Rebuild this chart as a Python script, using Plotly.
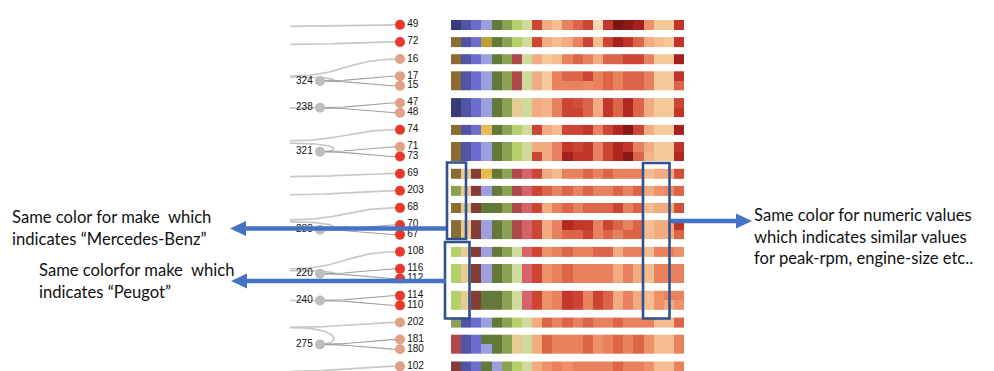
import plotly.graph_objects as go

# ------------------------------------------------------------------ data
LEAVES = ["49", "72", "16", "17", "15", "47", "48", "74", "71", "73", "69", "203",
          "68", "70", "67", "108", "116", "112", "114", "110", "202", "181", "180", "102"]
GROUP_SIZES = [1, 1, 1, 2, 2, 1, 2, 1, 1, 1, 2, 1, 2, 2, 1, 2, 1]
GROUP_NODE = ["", "", "", "324", "238", "", "321", "", "", "", "288", "", "220", "240", "", "275", ""]
CLUSTER = [1, 1, 0, 0, 0, 0, 0, 1, 0, 1, 1, 1, 1, 1, 1, 1, 1, 1, 1, 1, 0, 0, 0, 0]

# categorical attributes (make, fuel, aspiration, doors, body, drive, engine-loc, ...) as category codes
CAT_CODES = [
    [0, 1, 2, 3, 4, 5, 6, 7],      # 49
    [8, 1, 2, 9, 4, 5, 6, 7],      # 72
    [8, 1, 2, 3, 4, 5, 13, 7],     # 16
    [8, 1, 2, 3, 4, 5, 13, 7],     # 17
    [8, 1, 2, 3, 4, 5, 13, 7],     # 15
    [0, 1, 2, 3, 4, 5, 11, 7],     # 47
    [0, 1, 2, 3, 4, 5, 11, 7],     # 48
    [8, 1, 2, 10, 4, 5, 6, 7],     # 74
    [8, 1, 2, 3, 4, 5, 6, 7],      # 71
    [8, 1, 2, 3, 4, 5, 6, 7],      # 73
    [8, 11, 12, 10, 4, 5, 13, 14], # 69
    [5, 11, 12, 3, 4, 5, 13, 14],  # 203
    [8, 11, 12, 4, 4, 5, 13, 14],  # 68
    [8, 11, 12, 3, 4, 5, 13, 14],  # 70
    [8, 11, 12, 3, 4, 5, 13, 14],  # 67
    [6, 11, 12, 3, 4, 5, 7, 14],   # 108
    [6, 11, 12, 3, 4, 5, 7, 14],   # 116
    [6, 11, 12, 3, 4, 5, 7, 14],   # 112
    [6, 11, 12, 4, 4, 5, 7, 14],   # 114
    [6, 11, 12, 4, 4, 5, 7, 14],   # 110
    [5, 1, 2, 3, 4, 5, 6, 7],      # 202
    [13, 1, 2, 4, 4, 5, 11, 7],    # 181
    [13, 1, 2, 3, 4, 5, 11, 7],    # 180
    [12, 1, 2, 4, 3, 5, 6, 7],     # 102
]

# numeric attributes (normalised 0..1)
NUM_VALUES = [
    [0.70, 0.30, 0.20, 0.50, 0.60, 0.70, 0.02, 0.75, 1.00, 0.96, 0.87, 0.40, 0.10, 0.10, 0.76],  # 49
    [0.70, 0.30, 0.20, 0.30, 0.50, 0.70, 0.20, 0.70, 0.87, 0.76, 0.60, 0.30, 0.20, 0.10, 0.76],  # 72
    [0.30, 0.10, 0.20, 0.50, 0.60, 0.50, 0.30, 0.60, 0.60, 0.70, 0.70, 0.50, 0.10, 0.10, 0.87],  # 16
    [0.30, 0.10, 0.50, 0.60, 0.60, 0.70, 0.50, 0.60, 0.50, 0.60, 0.60, 0.50, 0.10, 0.10, 0.76],  # 17
    [0.30, 0.10, 0.50, 0.50, 0.50, 0.45, 0.50, 0.60, 0.50, 0.60, 0.60, 0.50, 0.10, 0.10, 0.60],  # 15
    [0.30, 0.25, 0.50, 0.70, 0.67, 0.60, 0.30, 0.75, 0.60, 0.82, 0.60, 0.30, 0.10, 0.10, 0.70],  # 47
    [0.30, 0.25, 0.50, 0.70, 0.70, 0.60, 0.30, 0.75, 0.60, 0.82, 0.60, 0.30, 0.10, 0.10, 0.76],  # 48
    [0.70, 0.30, 0.20, 0.70, 0.70, 0.75, 0.50, 0.70, 0.82, 0.96, 0.70, 0.30, 0.10, 0.10, 0.87],  # 74
    [0.30, 0.30, 0.50, 0.75, 0.70, 0.75, 0.50, 0.70, 0.82, 0.75, 0.50, 0.30, 0.10, 0.10, 0.76],  # 71
    [0.70, 0.30, 0.50, 0.87, 0.75, 0.75, 0.50, 0.70, 0.82, 0.95, 0.60, 0.25, 0.10, 0.10, 0.82],  # 73
    [0.70, 0.30, 0.20, 0.50, 0.50, 0.60, 0.50, 0.60, 0.50, 0.50, 0.50, 0.20, 0.30, 0.30, 0.67],  # 69
    [0.70, 0.60, 0.50, 0.60, 0.50, 0.60, 0.50, 0.50, 0.60, 0.50, 0.60, 0.30, 0.40, 0.45, 0.60],  # 203
    [0.70, 0.30, 0.50, 0.60, 0.50, 0.60, 0.60, 0.60, 0.70, 0.50, 0.60, 0.20, 0.30, 0.30, 0.67],  # 68
    [0.70, 0.30, 0.50, 0.82, 0.75, 0.75, 0.50, 0.70, 0.60, 0.50, 0.60, 0.20, 0.30, 0.30, 0.76],  # 70
    [0.70, 0.30, 0.50, 0.60, 0.60, 0.70, 0.50, 0.60, 0.50, 0.60, 0.60, 0.20, 0.30, 0.30, 0.60],  # 67
    [0.70, 0.40, 0.50, 0.60, 0.50, 0.50, 0.60, 0.60, 0.30, 0.50, 0.50, 0.20, 0.50, 0.50, 0.40],  # 108
    [0.70, 0.40, 0.50, 0.60, 0.50, 0.50, 0.50, 0.50, 0.30, 0.50, 0.30, 0.20, 0.50, 0.50, 0.50],  # 116
    [0.70, 0.40, 0.50, 0.60, 0.50, 0.50, 0.50, 0.50, 0.30, 0.50, 0.30, 0.20, 0.50, 0.50, 0.50],  # 112
    [0.70, 0.40, 0.50, 0.75, 0.70, 0.50, 0.70, 0.60, 0.30, 0.50, 0.30, 0.20, 0.40, 0.50, 0.50],  # 114
    [0.70, 0.40, 0.50, 0.75, 0.70, 0.50, 0.70, 0.60, 0.30, 0.50, 0.30, 0.20, 0.40, 0.30, 0.40],  # 110
    [0.30, 0.60, 0.50, 0.60, 0.50, 0.60, 0.50, 0.50, 0.60, 0.50, 0.50, 0.50, 0.20, 0.20, 0.60],  # 202
    [0.30, 0.60, 0.50, 0.50, 0.50, 0.60, 0.40, 0.50, 0.60, 0.50, 0.60, 0.40, 0.20, 0.20, 0.50],  # 181
    [0.30, 0.60, 0.50, 0.50, 0.50, 0.60, 0.40, 0.50, 0.60, 0.50, 0.60, 0.40, 0.20, 0.20, 0.50],  # 180
    [0.30, 0.40, 0.50, 0.40, 0.50, 0.50, 0.50, 0.50, 0.60, 0.50, 0.50, 0.40, 0.20, 0.20, 0.50],  # 102
]

NOTE_LEFT_1 = "Same color for make  which<br>indicates \u201cMercedes-Benz\u201d"
NOTE_LEFT_2 = "Same colorfor make  which<br>indicates \u201cPeugot\u201d"
NOTE_RIGHT = ("Same color for numeric values<br>which indicates similar values<br>"
              "for peak-rpm, engine-size etc..")

# ------------------------------------------------------------------ styles / layout
W, H = 994, 371
CAT20B = ["#393b79", "#5254a3", "#6b6ecf", "#9c9ede", "#637939", "#8ca252", "#b5cf6b", "#cedb9c",
          "#8c6d31", "#bd9e39", "#e7ba52", "#e7cb94", "#843c39", "#ad494a", "#d6616b", "#e7969c",
          "#7b4173", "#a55194", "#ce6dbd", "#de9ed6"]
NUM_SCALE = [[0.0, "#f9dcb8"], [0.1, "#f5c99a"], [0.2, "#f4bc90"], [0.3, "#f2aa80"],
             [0.4, "#ee9068"], [0.5, "#e8825e"], [0.6, "#dc6448"], [0.7, "#cc4433"],
             [0.8, "#b82a22"], [0.9, "#9c1f18"], [1.0, "#7b1510"]]
CLUSTER_COL = ["#e2a084", "#e8392b"]
NODE_GRAY = "#bdbdbd"
LINK_COL = "#c8c8c8"
INNER_LINK_COL = "#a0a0a0"
RECT_COL = "#2f528f"
ARROW_COL = "#4472c4"

TOP, ROW_H, GAP = 20.0, 9.7, 7.4
EDGE_X, INNER_X, LEAF_X = 290.0, 320.0, 400.0
HEAT_X0, CELL_W = 451.0, 10.13
ENTRY_DY = [1.6, 2.5, 17, -4, 0, 11, -8.6, 3, 4, 12, -8, 17, -3, 0, 5, -17, 5]

cat_scale = []
for i, c in enumerate(CAT20B):
    cat_scale.append([i / len(CAT20B), c])
    cat_scale.append([(i + 1) / len(CAT20B), c])


def bezier(p0, p1, p2, p3, n=40):
    xs, ys = [], []
    for k in range(n + 1):
        t = k / n
        a, b, c, d = (1 - t) ** 3, 3 * (1 - t) ** 2 * t, 3 * (1 - t) * t ** 2, t ** 3
        xs.append(a * p0[0] + b * p1[0] + c * p2[0] + d * p3[0])
        ys.append(a * p0[1] + b * p1[1] + c * p2[1] + d * p3[1])
    return xs, ys


fig = go.Figure()

# layout of groups
leaf_y = []
groups = []
idx = 0
top = TOP
for g, size in enumerate(GROUP_SIZES):
    ys = [top + (i + 0.5) * ROW_H for i in range(size)]
    groups.append((top, list(range(idx, idx + size)), ys))
    leaf_y += ys
    idx += size
    top += size * ROW_H + GAP

link_x, link_y = [], []
inner_x, inner_y = [], []
node_x, node_y, node_lab = [], [], []
for g, (gtop, members, ys) in enumerate(groups):
    yc = sum(ys) / len(ys)
    ye = yc + ENTRY_DY[g]
    if GROUP_NODE[g]:
        xs, yy = bezier((EDGE_X, ye), (342, ye), (342, yc), (INNER_X, yc))
        link_x += xs + [None]; link_y += yy + [None]
        for y in ys:
            xs, yy = bezier((INNER_X, yc), (360, yc), (360, y), (LEAF_X, y))
            inner_x += xs + [None]; inner_y += yy + [None]
        node_x.append(INNER_X); node_y.append(yc); node_lab.append(GROUP_NODE[g])
    else:
        xs, yy = bezier((EDGE_X, ye), (345, ye), (345, yc), (LEAF_X, yc))
        link_x += xs + [None]; link_y += yy + [None]

fig.add_trace(go.Scatter(x=link_x, y=link_y, mode="lines",
                         line=dict(color=LINK_COL, width=1.7), hoverinfo="skip"))
fig.add_trace(go.Scatter(x=inner_x, y=inner_y, mode="lines",
                         line=dict(color=INNER_LINK_COL, width=1.1), hoverinfo="skip"))

# heatmap blocks
for gtop, members, ys in groups:
    fig.add_trace(go.Heatmap(
        z=[CAT_CODES[m] for m in members], x0=HEAT_X0 + CELL_W / 2, dx=CELL_W,
        y0=gtop + ROW_H / 2, dy=ROW_H, colorscale=cat_scale, zmin=-0.5, zmax=19.5,
        showscale=False, hoverinfo="skip"))
    fig.add_trace(go.Heatmap(
        z=[NUM_VALUES[m] for m in members], x0=HEAT_X0 + 8.5 * CELL_W, dx=CELL_W,
        y0=gtop + ROW_H / 2, dy=ROW_H, colorscale=NUM_SCALE, zmin=0, zmax=1,
        showscale=False, hoverinfo="skip"))

# nodes
fig.add_trace(go.Scatter(x=node_x, y=node_y, mode="markers+text", text=node_lab,
                         textposition="middle left",
                         textfont=dict(family="Liberation Sans, Arial", size=10, color="#111"),
                         marker=dict(size=10, color=NODE_GRAY), hoverinfo="skip"))
fig.add_trace(go.Scatter(x=[LEAF_X] * len(LEAVES), y=leaf_y, mode="markers+text", text=LEAVES,
                         textposition="middle right",
                         textfont=dict(family="Liberation Sans, Arial", size=10, color="#111"),
                         marker=dict(size=10, color=[CLUSTER_COL[c] for c in CLUSTER]),
                         hoverinfo="skip"))

# annotation boxes and arrows
shapes = []
for (x0, y0, x1, y1) in [(447, 162.5, 466, 239), (445, 242, 469.5, 318.5), (643, 163, 669.5, 318.5)]:
    shapes.append(dict(type="rect", x0=x0, y0=y0, x1=x1, y1=y1, xref="x", yref="y",
                       line=dict(color=RECT_COL, width=2.6), layer="above"))
for (xs, xe, y) in [(446, 230, 228.5), (446, 231, 281), (671, 752, 221)]:
    d = 1 if xe > xs else -1
    base = xe - d * 16
    shapes.append(dict(type="line", x0=xs, x1=base, y0=y, y1=y, xref="x", yref="y",
                       line=dict(color=ARROW_COL, width=4.5), layer="above"))
    shapes.append(dict(type="path", path=f"M{xe},{y} L{base},{y - 7.5} L{base},{y + 7.5} Z",
                       xref="x", yref="y", fillcolor=ARROW_COL, line=dict(width=0), layer="above"))

note_font = dict(family="Lato, Open Sans, sans-serif", size=16.6, color="#111")
annotations = [
    dict(x=10, y=227.7, text=NOTE_LEFT_1, xanchor="left", yanchor="middle", align="left",
         showarrow=False, font=note_font, xref="x", yref="y"),
    dict(x=37, y=281, text=NOTE_LEFT_2, xanchor="left", yanchor="middle", align="left",
         showarrow=False, font=note_font, xref="x", yref="y"),
    dict(x=752, y=236.7, text=NOTE_RIGHT, xanchor="left", yanchor="middle", align="left",
         showarrow=False, font=note_font, xref="x", yref="y"),
]

fig.update_layout(
    width=W, height=H, autosize=False, margin=dict(l=0, r=0, t=0, b=0),
    paper_bgcolor="white", plot_bgcolor="white", showlegend=False,
    xaxis=dict(range=[0, W], visible=False, fixedrange=True),
    yaxis=dict(range=[H, 0], visible=False, fixedrange=True),
    shapes=shapes, annotations=annotations,
)

fig.write_html("out.html", config={"displayModeBar": False},
               post_script="document.body.style.margin='0';"
                           "document.body.style.overflow='hidden';")
